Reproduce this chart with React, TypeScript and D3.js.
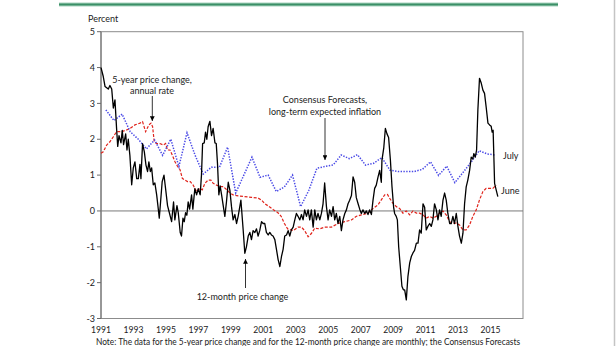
import React from "react";
import * as d3 from "d3";

// 12-month price change (monthly), [decimal year, percent]
const twelveMonth: [number, number][] = [
  [1991.0,4.0],[1991.14,3.75],[1991.25,3.47],[1991.45,3.4],[1991.55,3.5],[1991.66,3.4],[1991.76,2.87],[1991.86,3.1],[1991.96,2.3],
  [1992.03,1.8],[1992.11,2.1],[1992.23,1.9],[1992.31,2.25],[1992.39,1.85],[1992.52,2.15],[1992.6,1.7],[1992.68,2.0],[1992.78,1.55],[1992.89,0.73],[1992.99,1.2],
  [1993.09,1.37],[1993.2,0.9],[1993.3,0.9],[1993.4,1.3],[1993.46,0.9],[1993.56,1.88],[1993.67,1.65],[1993.77,1.28],[1993.87,1.1],[1993.95,1.37],
  [1994.04,1.1],[1994.12,1.2],[1994.22,0.73],[1994.32,0.78],[1994.43,0.45],[1994.53,0.05],[1994.59,-0.2],[1994.67,0.25],[1994.77,0.82],[1994.88,1.0],[1994.98,0.62],
  [1995.1,0.15],[1995.2,-0.03],[1995.35,-0.3],[1995.47,0.25],[1995.55,-0.25],[1995.68,0.15],[1995.76,-0.05],[1995.88,-0.6],[1995.96,-0.7],
  [1996.05,-0.2],[1996.13,-0.3],[1996.21,-0.05],[1996.29,-0.12],[1996.37,0.25],[1996.46,0.05],[1996.58,0.45],[1996.66,0.05],[1996.78,0.62],[1996.89,0.45],[1996.99,0.62],
  [1997.11,0.45],[1997.19,1.0],[1997.26,1.88],[1997.36,1.9],[1997.44,2.2],[1997.52,2.0],[1997.6,2.35],[1997.71,2.5],[1997.81,2.1],[1997.91,2.3],
  [1998.02,1.9],[1998.1,1.88],[1998.18,1.3],[1998.26,0.45],[1998.34,0.7],[1998.43,0.45],[1998.53,0.15],[1998.63,-0.15],[1998.73,0.25],[1998.84,0.8],[1998.94,0.58],
  [1999.04,0.12],[1999.14,-0.25],[1999.25,-0.1],[1999.35,-0.35],[1999.45,-0.15],[1999.62,0.3],[1999.76,-0.53],[1999.86,-1.18],[1999.96,-1.0],
  [2000.07,-0.7],[2000.17,-0.6],[2000.27,-0.8],[2000.37,-0.55],[2000.48,-0.6],[2000.58,-0.5],[2000.68,-0.7],[2000.78,-0.55],[2000.89,-0.3],[2000.99,-0.35],
  [2001.09,-0.35],[2001.19,-0.6],[2001.3,-0.67],[2001.4,-0.6],[2001.5,-0.67],[2001.6,-0.7],[2001.71,-0.8],[2001.81,-1.07],[2001.91,-1.35],
  [2002.02,-1.55],[2002.12,-1.27],[2002.22,-1.07],[2002.32,-0.7],[2002.43,-0.67],[2002.53,-0.55],[2002.63,-0.7],[2002.73,-0.53],[2002.84,-0.45],[2002.94,-0.25],
  [2003.04,-0.07],[2003.14,-0.15],[2003.25,-0.25],[2003.35,-0.1],[2003.45,-0.25],[2003.55,0.03],[2003.66,-0.15],[2003.76,0.03],[2003.86,-0.25],[2003.96,0.03],
  [2004.07,-0.45],[2004.17,0.03],[2004.27,-0.25],[2004.37,-0.07],[2004.48,-0.25],[2004.58,-0.07],[2004.68,0.2],[2004.78,0.78],[2004.89,0.12],[2004.99,-0.25],
  [2005.09,0.03],[2005.2,-0.15],[2005.3,0.12],[2005.4,-0.25],[2005.5,-0.07],[2005.6,-0.35],[2005.71,-0.15],[2005.81,-0.55],[2005.91,-0.25],
  [2006.02,-0.07],[2006.12,0.03],[2006.22,0.2],[2006.32,0.3],[2006.43,0.43],[2006.53,0.95],[2006.63,0.8],[2006.73,0.37],[2006.84,0.2],[2006.94,0.05],
  [2007.04,-0.07],[2007.14,0.03],[2007.25,-0.07],[2007.35,0],[2007.45,-0.1],[2007.55,0.03],[2007.66,-0.1],[2007.76,0.3],[2007.86,0.63],[2007.96,0.72],
  [2008.07,0.95],[2008.17,1.13],[2008.27,0.8],[2008.31,1.42],[2008.42,1.75],[2008.52,2.3],[2008.62,2.15],[2008.72,2.05],[2008.83,1.42],[2008.93,0.67],
  [2009.03,0.1],[2009.09,-0.07],[2009.19,-0.15],[2009.26,-0.25],[2009.34,-1.0],[2009.44,-1.55],[2009.54,-2.1],[2009.63,-2.2],[2009.71,-2.2],[2009.81,-2.48],[2009.91,-1.83],
  [2010.02,-1.45],[2010.12,-1.27],[2010.22,-1.17],[2010.32,-1.1],[2010.43,-0.9],[2010.53,-0.9],[2010.63,-0.53],[2010.73,-0.62],[2010.84,0.2],[2010.94,0.1],
  [2011.04,-0.53],[2011.14,-0.43],[2011.25,-0.35],[2011.35,-0.43],[2011.45,-0.25],[2011.55,0.2],[2011.66,0.03],[2011.76,-0.25],[2011.86,0.03],[2011.96,-0.15],
  [2012.07,0.3],[2012.17,0.5],[2012.27,0.3],[2012.37,-0.07],[2012.48,-0.35],[2012.58,-0.35],[2012.68,-0.15],[2012.78,-0.35],[2012.89,-0.07],[2012.99,-0.43],
  [2013.09,-0.7],[2013.2,-0.9],[2013.3,-0.62],[2013.4,0.2],[2013.5,0.67],[2013.6,0.86],[2013.71,1.13],[2013.81,1.5],[2013.91,1.45],[2013.97,1.6],
  [2014.06,1.5],[2014.14,1.7],[2014.22,2.82],[2014.32,3.7],[2014.43,3.56],[2014.53,3.37],[2014.63,3.28],[2014.73,2.9],[2014.84,2.45],[2014.94,2.4],
  [2015.04,2.36],[2015.1,2.2],[2015.16,2.25],[2015.25,0.77],[2015.35,0.58],[2015.45,0.4],
];

// 5-year price change, annual rate (monthly, smooth)
const fiveYear: [number, number][] = [
  [1991.0,1.61],[1991.14,1.65],[1991.35,1.84],[1991.55,1.93],[1991.76,2.07],[1991.96,2.21],[1992.27,2.21],[1992.58,2.26],[1992.78,2.3],
  [1993.09,2.4],[1993.4,2.45],[1993.56,2.49],[1993.75,2.21],[1993.95,2.4],[1994.08,2.45],[1994.18,2.35],[1994.28,1.93],[1994.43,1.88],[1994.63,1.88],[1994.84,1.84],[1994.98,1.88],
  [1995.1,1.7],[1995.25,1.7],[1995.39,1.56],[1995.55,1.38],[1995.72,1.24],[1995.87,1.15],[1996.01,0.91],[1996.17,0.86],[1996.33,0.82],[1996.5,0.82],[1996.68,0.72],[1996.89,0.54],
  [1997.09,0.63],[1997.24,0.59],[1997.4,0.77],[1997.6,0.86],[1997.77,0.86],[1997.91,0.77],[1998.12,0.72],[1998.32,0.68],[1998.53,0.68],[1998.73,0.6],[1998.94,0.5],
  [1999.14,0.45],[1999.45,0.42],[1999.86,0.4],[2000.27,0.38],[2000.68,0.36],[2000.9,0.3],[2001.1,0.2],[2001.3,0.14],[2001.6,0.04],[2001.9,-0.05],
  [2002.1,-0.15],[2002.3,-0.35],[2002.5,-0.5],[2002.84,-0.55],[2003.14,-0.45],[2003.35,-0.45],[2003.55,-0.55],[2003.76,-0.72],[2003.96,-0.63],
  [2004.17,-0.48],[2004.48,-0.5],[2004.78,-0.45],[2005.2,-0.45],[2005.6,-0.35],[2006.02,-0.3],[2006.43,-0.25],[2006.73,-0.15],
  [2007.04,-0.11],[2007.45,-0.06],[2007.76,0.07],[2008.07,0.17],[2008.27,0.31],[2008.48,0.45],[2008.65,0.46],[2008.79,0.35],[2008.99,0.21],
  [2009.2,0.12],[2009.4,0.07],[2009.6,-0.06],[2009.81,0],[2010.02,-0.11],[2010.22,0],[2010.43,-0.06],[2010.63,-0.06],[2010.84,-0.11],
  [2011.04,-0.2],[2011.25,-0.15],[2011.45,-0.2],[2011.66,-0.15],[2011.86,-0.06],[2012.07,0],[2012.27,-0.11],[2012.48,-0.3],[2012.68,-0.34],[2012.89,-0.34],
  [2013.09,-0.39],[2013.3,-0.53],[2013.5,-0.53],[2013.71,-0.39],[2013.91,-0.15],[2014.12,0.03],[2014.32,0.31],[2014.53,0.54],[2014.73,0.63],[2014.94,0.63],
  [2015.14,0.63],[2015.35,0.72],
];

// Consensus Forecasts, long-term expected inflation (semiannual: April / October survey)
const consensusDates: number[] = [
  1991.3,1991.8,1992.3,1992.8,1993.3,1993.8,1994.3,1994.8,1995.3,1995.8,1996.3,1996.8,1997.3,1997.8,1998.3,1998.8,
  1999.3,1999.8,2000.3,2000.8,2001.3,2001.8,2002.3,2002.8,2003.3,2003.8,2004.3,2004.8,2005.3,2005.8,2006.3,2006.8,
  2007.3,2007.8,2008.3,2008.8,2009.3,2009.8,2010.3,2010.8,2011.3,2011.8,2012.3,2012.8,2013.3,2013.8,2014.3,2014.8,2015.3,
];
const consensusValues: number[] = [
  2.82,2.52,2.7,2.21,2.0,1.73,1.98,1.55,2.0,1.24,2.18,1.55,1.03,1.22,1.22,1.78,
  0.5,1.0,1.5,0.94,1.0,0.54,0.67,1.0,0.12,0.57,1.19,1.24,1.28,1.56,1.46,1.57,
  1.28,1.33,1.49,1.14,1.1,1.1,1.1,1.16,1.37,0.99,1.25,0.79,1.07,1.36,1.68,1.59,1.56,
];

const yTicks: number[] = [5, 4, 3, 2, 1, 0, -1, -2, -3];
const xTickYears: number[] = [1991, 1993, 1995, 1997, 1999, 2001, 2003, 2005, 2007, 2009, 2011, 2013, 2015];

const noteText =
  "Note:  The data for the 5-year price change and for the 12-month price change are monthly; the Consensus Forecasts";

const FONT = "Lato, 'Open Sans', sans-serif";

export default function App() {
  const x = d3.scaleLinear().domain([1991, 2017]).range([101, 523]);
  const y = d3.scaleLinear().domain([-3, 5]).range([318.5, 31.7]);

  const line = d3
    .line<[number, number]>()
    .x((d) => x(d[0]))
    .y((d) => y(d[1]));

  const consensus: [number, number][] = consensusDates.map((d, i) => [d, consensusValues[i]]);

  const left = x.range()[0];
  const right = x.range()[1];
  const top = y(5);
  const bottom = y(-3);

  return (
    <svg
      width={616}
      height={346}
      style={{ position: "absolute", left: 0, top: 0, background: "#fff" }}
      fontFamily={FONT}
    >
      <defs>
        <marker id="arr" viewBox="0 0 6 6" refX="6" refY="3" markerWidth="6" markerHeight="6" orient="auto">
          <path d="M0,0 L6,3 L0,6 Z" fill="#000" />
        </marker>
      </defs>
      <rect x={0} y={0} width={616} height={346} fill="#fff" />
      {/* page decorations */}
      <line x1={59} x2={558} y1={4.5} y2={4.5} stroke="#a9d3bf" strokeWidth={4} />
      <line x1={59} x2={558} y1={4.5} y2={4.5} stroke="#3b8f67" strokeWidth={2} />
      <line x1={614.5} x2={614.5} y1={0} y2={346} stroke="#c4c4c4" strokeWidth={1.5} />

      {/* plot frame */}
      <rect x={left} y={top} width={right - left} height={bottom - top} fill="none" stroke="#8c8c8c" strokeWidth={1} />
      <line x1={left} x2={left} y1={top} y2={bottom} stroke="#6b6b6b" strokeWidth={1} />
      <line x1={left} x2={right} y1={y(0)} y2={y(0)} stroke="#7a7a7a" strokeWidth={1} />

      {/* y axis */}
      <text x={88} y={22} fontSize={9} fill="#222">Percent</text>
      {yTicks.map((t) => (
        <g key={t}>
          <line x1={left - 4} x2={left} y1={y(t)} y2={y(t)} stroke="#6b6b6b" />
          <text x={95} y={y(t) + 3.2} fontSize={9} textAnchor="end" fill="#222">
            {t}
          </text>
        </g>
      ))}

      {/* x axis labels */}
      {xTickYears.map((yr) => (
        <text key={yr} x={x(yr)} y={333} fontSize={8.6} textAnchor="middle" fill="#222">
          {yr}
        </text>
      ))}

      {/* series */}
      <path d={line(fiveYear) ?? ""} fill="none" stroke="#e0241c" strokeWidth={1.2} strokeDasharray="3,1.6" />
      <path d={line(consensus) ?? ""} fill="none" stroke="#4a4ae6" strokeWidth={1.5} strokeDasharray="1.4,1.4" />
      <path d={line(twelveMonth) ?? ""} fill="none" stroke="#000" strokeWidth={1.3} strokeLinejoin="round" />

      {/* annotations */}
      <g fontSize={9} fill="#222" textAnchor="middle">
        <text x={152} y={82.5}>5-year price change,</text>
        <text x={152} y={93.5}>annual rate</text>
        <text x={325} y={103}>Consensus Forecasts,</text>
        <text x={325} y={114.5}>long-term expected inflation</text>
        <text x={242.5} y={300}>12-month price change</text>
      </g>
      <line x1={152.3} x2={152.3} y1={96} y2={121} stroke="#000" strokeWidth={0.8} markerEnd="url(#arr)" />
      <line x1={325} x2={325} y1={118} y2={160} stroke="#000" strokeWidth={0.8} markerEnd="url(#arr)" />
      <line x1={245.5} x2={245.5} y1={288} y2={259} stroke="#000" strokeWidth={0.8} markerEnd="url(#arr)" />
      <text x={503} y={158.5} fontSize={9} fill="#222">July</text>
      <text x={501} y={193.5} fontSize={9} fill="#222">June</text>

      {/* note */}
      <text x={96} y={344.5} fontSize={9} fill="#222" textLength={424} lengthAdjust="spacingAndGlyphs">
        {noteText}
      </text>
    </svg>
  );
}
